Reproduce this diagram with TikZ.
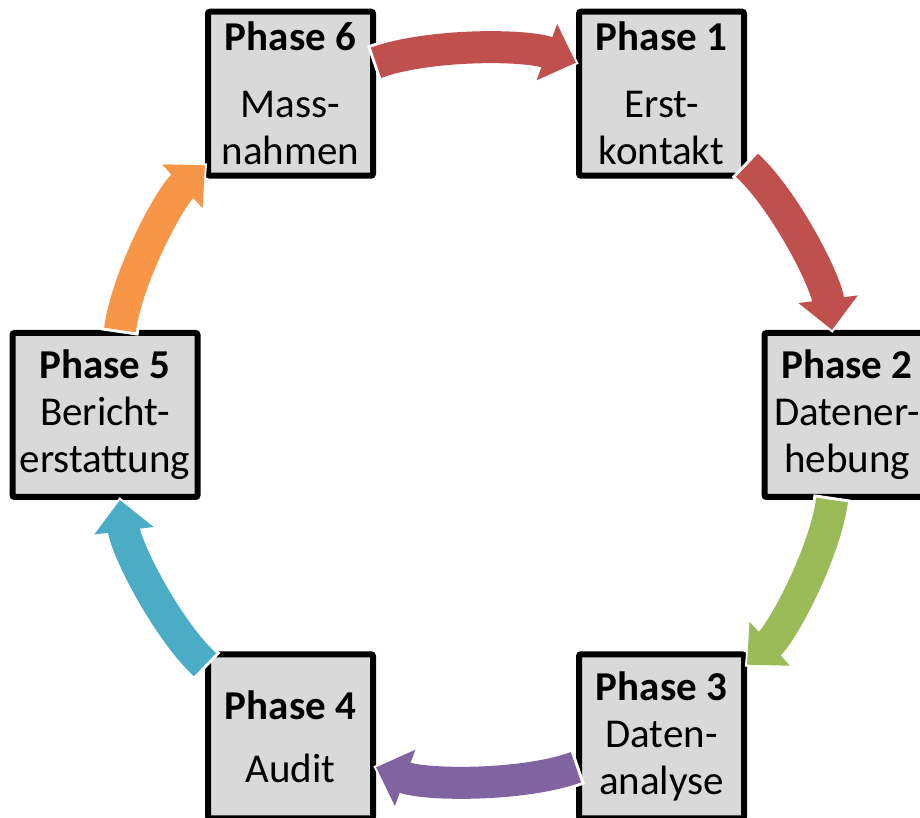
\documentclass[tikz,border=0pt]{standalone}
\usepackage{fontspec}
\setmainfont{Carlito}
\usepackage{xcolor}
\usepackage{tikz}
\usetikzlibrary{arrows.meta,positioning}

\definecolor{boxgray}{HTML}{D9D9D9}
\definecolor{arrowred}{HTML}{C0504D}
\definecolor{arrowgreen}{HTML}{9BBB59}
\definecolor{arrowpurple}{HTML}{8064A2}
\definecolor{arrowteal}{HTML}{4BACC6}
\definecolor{arroworange}{HTML}{F79646}

\begin{document}
\begin{tikzpicture}[x=1pt, y=1pt,
phasenode/.style={rectangle, draw=black, fill=boxgray, line width=6pt, rounded corners=2pt, minimum width=165pt, minimum height=164pt, inner sep=0pt, align=center, font=\fontsize{41}{47}\selectfont},
cyclearrow/.style={line width=32pt, -{Triangle[length=31pt, width=58pt]}, preaction={draw=white, line width=38pt, shorten <=-3pt, shorten >=-3pt, -{Triangle[length=37pt, width=66pt]}}, bend left=20, looseness=0.7},
]
\useasboundingbox (0,0) rectangle (920,818);

%Nodes
\begin{scope}[shift={(476,403)}]
\node[phasenode]                      (phaseone)   at (60:371)  {\textbf{Phase 1}\\[20pt]Erst-\\kontakt};
\node[phasenode]                      (phasetwo)   at (0:371)   {\textbf{Phase 2}\\Datener-\\hebung};
\node[phasenode]                      (phasethree) at (-60:371) {\textbf{Phase 3}\\Daten-\\analyse};
\node[phasenode]                      (phasefour)  at (-120:371) {\textbf{Phase 4}\\[16pt]Audit};
\node[phasenode, minimum width=185pt] (phasefive)  at (180:371) {\textbf{Phase 5}\\Bericht-\\erstattung};
\node[phasenode]                      (phasesix)   at (120:371) {\textbf{Phase 6}\\[20pt]Mass-\\nahmen};
\end{scope}

%Arrows
\draw[cyclearrow, arrowred]    (phasesix)   to (phaseone);
\draw[cyclearrow, arrowred]    (phaseone)   to (phasetwo);
\draw[cyclearrow, arrowgreen]  (phasetwo)   to (phasethree);
\draw[cyclearrow, arrowpurple] (phasethree) to (phasefour);
\draw[cyclearrow, arrowteal]   (phasefour)  to (phasefive);
\draw[cyclearrow, arroworange] (phasefive)  to (phasesix);
\end{tikzpicture}
\end{document}
